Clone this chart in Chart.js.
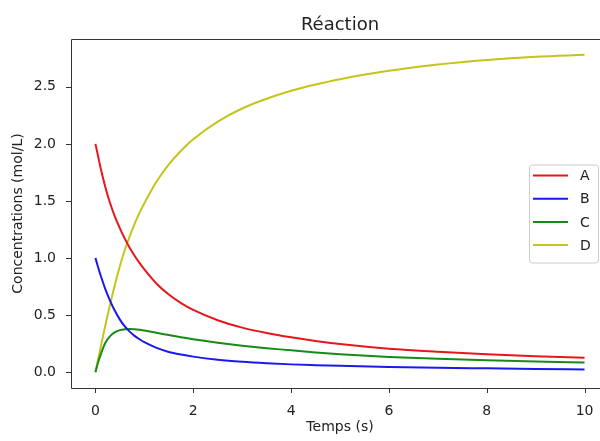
<!DOCTYPE html>
<html lang="fr">
<head>
<meta charset="UTF-8">
<title>Réaction</title>
<script src="https://cdn.jsdelivr.net/npm/chart.js"></script>
<style>
    body { margin: 0; background: #fff; overflow: hidden; }
    #wrap { width: 600px; height: 441px; overflow: hidden; }
    canvas { display: block; }
</style>
</head>
<body>
<div id="wrap"><canvas id="chart" width="620" height="441"></canvas></div>
<script>
    // values
    const temps = [0, 0.05, 0.1, 0.2, 0.3, 0.4, 0.5, 0.6, 0.7, 0.8, 0.9, 1.0, 1.25, 1.5, 1.75, 2, 2.5, 3, 3.5, 4, 4.5, 5, 6, 7, 8, 9, 10];
    const concA = [2.00, 1.90, 1.80, 1.625, 1.48, 1.36, 1.26, 1.17, 1.09, 1.02, 0.957, 0.90, 0.775, 0.68, 0.605, 0.545, 0.455, 0.39, 0.343, 0.305, 0.273, 0.246, 0.205, 0.178, 0.157, 0.14, 0.127];
    const concB = [1.00, 0.925, 0.855, 0.73, 0.625, 0.535, 0.46, 0.40, 0.355, 0.318, 0.288, 0.262, 0.212, 0.177, 0.154, 0.136, 0.109, 0.091, 0.078, 0.068, 0.061, 0.055, 0.045, 0.038, 0.033, 0.028, 0.024];
    const concC = [0, 0.08, 0.145, 0.255, 0.315, 0.35, 0.368, 0.376, 0.378, 0.376, 0.371, 0.364, 0.345, 0.325, 0.306, 0.288, 0.258, 0.232, 0.21, 0.191, 0.172, 0.157, 0.133, 0.117, 0.104, 0.093, 0.084];
    const concD = [0, 0.103, 0.205, 0.405, 0.595, 0.77, 0.93, 1.07, 1.19, 1.30, 1.395, 1.48, 1.67, 1.82, 1.94, 2.04, 2.195, 2.31, 2.395, 2.465, 2.52, 2.567, 2.64, 2.695, 2.735, 2.763, 2.78];
    const labels = ['A', 'B', 'C', 'D'];
    const colors = ['#e8161b', '#1a1aee', '#178a17', '#c4c41c'];

    const font = 'DejaVu Sans';
    const series = [concA, concB, concC, concD];

    const datasets = series.map((vals, i) => ({
        label: labels[i],
        data: vals.map((v, k) => ({x: temps[k], y: v})),
        borderColor: colors[i],
        backgroundColor: colors[i],
        borderWidth: 2,
        pointRadius: 0,
        cubicInterpolationMode: 'monotone',
        fill: false
    }));

    // title, spines, tick marks and the legend box inside the plot
    // (the plot runs past the right edge of the picture, like the reference)
    const extras = {
        id: 'extras',
        afterDraw(chart) {
            const ctx = chart.ctx;
            const a = chart.chartArea;
            const xs = chart.scales.x, ys = chart.scales.y;
            ctx.save();
            ctx.strokeStyle = '#333';
            ctx.lineWidth = 1;
            ctx.beginPath();
            ctx.moveTo(a.right, a.top + 0.5);
            ctx.lineTo(a.left + 0.5, a.top + 0.5);
            ctx.lineTo(a.left + 0.5, a.bottom + 0.5);
            ctx.lineTo(a.right, a.bottom + 0.5);
            xs.ticks.forEach(t => {
                const px = Math.round(xs.getPixelForValue(t.value)) + 0.5;
                ctx.moveTo(px, a.bottom);
                ctx.lineTo(px, a.bottom + 5);
            });
            ys.ticks.forEach(t => {
                const py = Math.round(ys.getPixelForValue(t.value)) + 0.5;
                ctx.moveTo(a.left, py);
                ctx.lineTo(a.left - 5, py);
            });
            ctx.stroke();

            ctx.fillStyle = '#222';
            ctx.font = '18px "' + font + '"';
            ctx.textAlign = 'center';
            ctx.textBaseline = 'alphabetic';
            ctx.fillText('Réaction', (a.left + a.right) / 2, 30);

            const w = 69, h = 98;
            const bx = a.right - 11 - w;
            const by = (a.top + a.bottom) / 2 - h / 2;
            ctx.fillStyle = 'rgba(255,255,255,0.8)';
            ctx.strokeStyle = '#cccccc';
            ctx.beginPath();
            ctx.roundRect(bx + 0.5, by + 0.5, w, h, 3);
            ctx.fill();
            ctx.stroke();

            ctx.font = '14px "' + font + '"';
            ctx.textAlign = 'left';
            ctx.textBaseline = 'middle';
            chart.data.datasets.forEach((ds, i) => {
                const y = by + 11 + i * 23.2;
                ctx.strokeStyle = ds.borderColor;
                ctx.lineWidth = 2;
                ctx.beginPath();
                ctx.moveTo(bx + 4, y);
                ctx.lineTo(bx + 39, y);
                ctx.stroke();
                ctx.fillStyle = '#222';
                ctx.fillText(ds.label, bx + 51, y + 1);
            });
            ctx.restore();
        }
    };

    new Chart(document.getElementById('chart'), {
        type: 'line',
        data: {datasets: datasets},
        options: {
            responsive: false,
            animation: false,
            layout: {padding: {top: 39, left: 0, right: 11, bottom: 0}},
            plugins: {
                legend: {display: false},
                title: {display: false},
                tooltip: {enabled: false}
            },
            scales: {
                x: {
                    type: 'linear',
                    min: -0.5,
                    max: 10.5,
                    afterFit: s => { s.height = 53; },
                    border: {display: false},
                    grid: {display: false, tickLength: 5},
                    ticks: {
                        stepSize: 2,
                        includeBounds: false,
                        padding: 10,
                        color: '#222',
                        font: {family: font, size: 14},
                        callback: v => v.toFixed(0)
                    },
                    title: {
                        display: true,
                        text: 'Temps (s)',
                        color: '#222',
                        font: {family: font, size: 14},
                        padding: {top: 0, bottom: 5}
                    }
                },
                y: {
                    type: 'linear',
                    min: -0.139,
                    max: 2.919,
                    afterFit: s => { s.width = 71; },
                    border: {display: false},
                    grid: {display: false, tickLength: 5},
                    ticks: {
                        stepSize: 0.5,
                        includeBounds: false,
                        padding: 10,
                        color: '#222',
                        font: {family: font, size: 14},
                        callback: v => v.toFixed(1)
                    },
                    title: {
                        display: true,
                        text: 'Concentrations (mol/L)',
                        color: '#222',
                        font: {family: font, size: 14},
                        padding: {top: 10, bottom: 0}
                    }
                }
            }
        },
        plugins: [extras]
    });
</script>
</body>
</html>
